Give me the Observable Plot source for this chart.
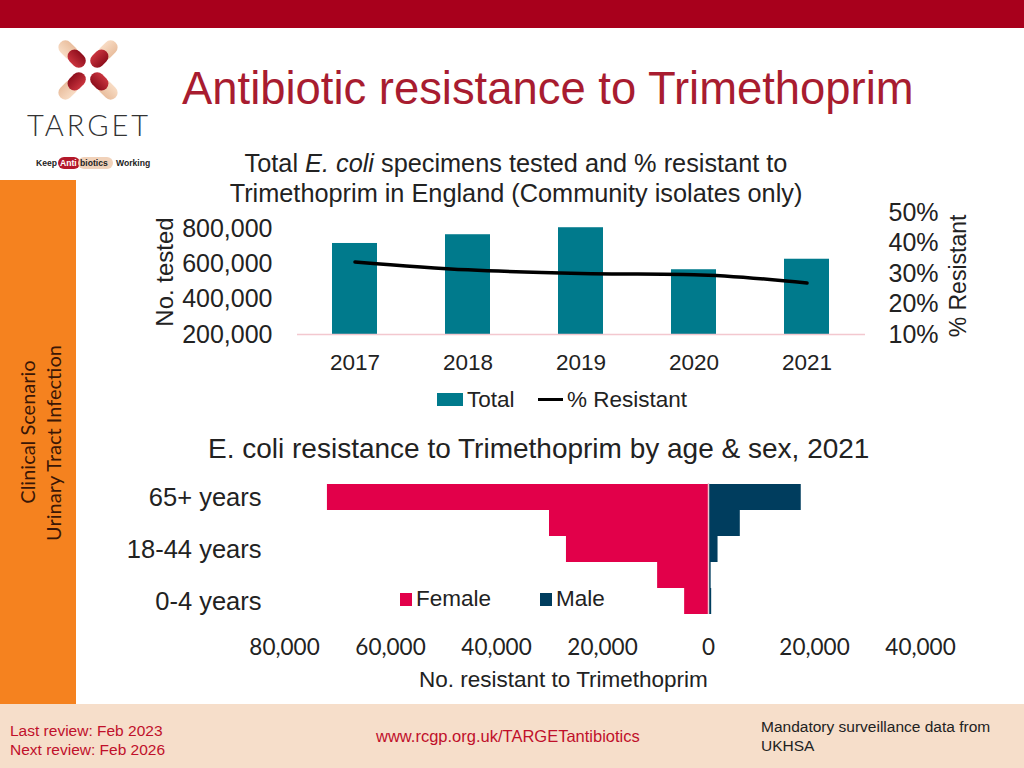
<!DOCTYPE html>
<html><head><meta charset="utf-8">
<script src="https://cdn.jsdelivr.net/npm/d3@7"></script>
<script src="https://cdn.jsdelivr.net/npm/@observablehq/plot@0.6"></script>
<style>
html,body{margin:0;padding:0;}
body{width:1024px;height:768px;position:relative;overflow:hidden;background:#fff;font-family:"Liberation Sans",Arial,sans-serif;color:#222;}
.abs{position:absolute;white-space:nowrap;}
.rot{transform:translate(-50%,-50%) rotate(-90deg);transform-origin:center center;}
#topband{left:0;top:0;width:1024px;height:28px;background:#A8001C;}
#sidebar{left:0;top:180px;width:76px;height:526px;background:#F5821F;}
#footer{left:0;top:704px;width:1024px;height:64px;background:#F6DECA;}
.side{font-family:Lato,"Open Sans",sans-serif;font-size:20px;color:#3a1606;line-height:1;}
.foot{font-size:15.5px;line-height:19px;}
svg.plot{position:absolute;overflow:visible;background:transparent;}
</style></head><body>
<div class="abs" id="topband"></div>
<div class="abs" id="sidebar"></div>
<div class="abs" id="footer"></div>

<!-- logo -->
<svg class="abs" style="left:0;top:30px" width="170" height="150" viewBox="0 0 170 150">
  <defs>
    <linearGradient id="redg" x1="0" y1="0" x2="0" y2="1">
      <stop offset="0" stop-color="#C9343E"/><stop offset="1" stop-color="#8E0E1C"/>
    </linearGradient>
    <linearGradient id="begg" x1="0" y1="0" x2="0" y2="1">
      <stop offset="0" stop-color="#F8DCC4"/><stop offset="1" stop-color="#E9BE9E"/>
    </linearGradient>
    <g id="pill">
      <rect x="17" y="-7" width="22" height="14" rx="7" fill="url(#begg)"/>
      <rect x="6" y="-7" width="20" height="14" rx="7" fill="url(#redg)"/>
    </g>
  </defs>
  <g transform="translate(88,40)">
    <use href="#pill" transform="rotate(-135)"/>
    <use href="#pill" transform="rotate(-45)"/>
    <use href="#pill" transform="rotate(45)"/>
    <use href="#pill" transform="rotate(135)"/>
  </g>
  <text x="89" y="106" text-anchor="middle" font-family="Lato" font-weight="300" font-size="29" letter-spacing="3" fill="#333">TARGET</text>
  <g font-family="Liberation Sans" font-weight="bold" font-size="8.6">
    <text x="36" y="136" fill="#222">Keep</text>
    <rect x="58" y="127" width="22" height="12" rx="6" fill="#B3182A"/>
    <rect x="78" y="127" width="35" height="12" rx="6" fill="#F1D2BA"/>
    <text x="60" y="136" fill="#fff">Anti</text>
    <text x="80" y="136" fill="#222">biotics</text>
    <text x="116" y="136" fill="#222">Working</text>
  </g>
</svg>

<div class="abs" style="left:182px;top:66px;font-size:45.4px;line-height:1;color:#A81C30;">Antibiotic resistance to Trimethoprim</div>

<div class="abs" style="left:216px;top:148px;width:600px;text-align:center;font-size:25.3px;line-height:30px;">Total <i>E. coli</i> specimens tested and % resistant to<br>Trimethoprim in England (Community isolates only)</div>

<div class="abs rot" style="left:165px;top:272px;font-size:24px;line-height:1;">No. tested</div>
<div class="abs rot" style="left:958px;top:276px;font-size:23px;line-height:1;">% Resistant</div>

<div id="topchart"></div>

<!-- top legend -->
<div class="abs" style="left:437px;top:393px;width:26px;height:13px;background:#007A8C;"></div>
<div class="abs" style="left:467px;top:389px;font-size:22.5px;line-height:1;">Total</div>
<div class="abs" style="left:538px;top:398px;width:25px;height:3px;background:#000;"></div>
<div class="abs" style="left:567px;top:389px;font-size:22.5px;line-height:1;">% Resistant</div>

<div class="abs" style="left:208px;top:435px;font-size:28px;line-height:1;">E. coli resistance to Trimethoprim by age &amp; sex, 2021</div>

<div id="bottomchart"></div>

<!-- bottom legend -->
<div class="abs" style="left:400px;top:593px;width:12px;height:13px;background:#E2004A;"></div>
<div class="abs" style="left:416px;top:588px;font-size:22.5px;line-height:1;">Female</div>
<div class="abs" style="left:540px;top:593px;width:12px;height:13px;background:#003D5E;"></div>
<div class="abs" style="left:556px;top:588px;font-size:22.5px;line-height:1;">Male</div>

<div class="abs" style="left:419px;top:669px;font-size:22.5px;line-height:1;">No. resistant to Trimethoprim</div>

<div class="abs rot side" style="left:27px;top:432px;">Clinical Scenario</div>
<div class="abs rot side" style="left:53px;top:443px;">Urinary Tract Infection</div>

<div class="abs foot" style="left:10px;top:721px;color:#C0102A;">Last review: Feb 2023<br>Next review: Feb 2026</div>
<div class="abs foot" style="left:376px;top:727px;color:#C0102A;font-size:16.5px;">www.rcgp.org.uk/TARGETantibiotics</div>
<div class="abs foot" style="left:761px;top:717px;color:#222;">Mandatory surveillance data from<br>UKHSA</div>

<script>
// ---- Top chart data ----
const years = ["2017", "2018", "2019", "2020", "2021"];
const totalTested = [720000, 770000, 810000, 570000, 630000];
const pctResistant = [33.8, 31.2, 30.0, 29.6, 26.9];
const countTicks = [200000, 400000, 600000, 800000];
const pctTicks = [10, 20, 30, 40, 50];

// ---- Bottom chart data ----
const ageGroups = ["65+ years", "45-64 years", "18-44 years", "5-17 years", "0-4 years"];
const femaleResistant = [71900, 30000, 26800, 9600, 4500];
const maleResistant = [17500, 6000, 1800, 500, 600];
const ageTickLabels = ["65+ years", "18-44 years", "0-4 years"];
const resistTicks = [-80000, -60000, -40000, -20000, 0, 20000, 40000];

const teal = "#007A8C", femaleColor = "#E2004A", maleColor = "#003D5E";

// secondary axis mapping: percent -> count space
const pctToCount = d3.scaleLinear().domain([10, 50]).range([200000, 897000]);

const topData = years.map((y, i) => ({year: y, total: totalTested[i], pct: pctResistant[i]}));

const chartTop = Plot.plot({
  width: 840, height: 185,
  marginTop: 17, marginBottom: 46, marginLeft: 157, marginRight: 115,
  style: {fontFamily: "Liberation Sans, Arial, sans-serif", color: "#222", background: "transparent", overflow: "visible"},
  x: {type: "band", domain: years, paddingInner: 0.6, paddingOuter: 0.3},
  y: {domain: [200000, 897000]},
  marks: [
    Plot.barY(topData, {x: "year", y1: 200000, y2: "total", fill: teal}),
    Plot.ruleY([200000], {stroke: "#F3C8CF", strokeWidth: 1.5}),
    Plot.line(topData, {x: "year", y: d => pctToCount(d.pct), stroke: "#000", strokeWidth: 3.5, curve: "monotone-x"}),
    Plot.axisY({ticks: countTicks, tickFormat: d3.format(","), tickSize: 0, tickPadding: 25, fontSize: 25, label: null}),
    Plot.axisY({anchor: "right", ticks: pctTicks.map(p => pctToCount(p)), tickFormat: v => Math.round(pctToCount.invert(v)) + "%", tickSize: 0, tickPadding: 23, fontSize: 25, label: null}),
    Plot.axisX({tickSize: 0, tickPadding: 20, fontSize: 22.5, label: null})
  ]
});
chartTop.classList.add("plot");
chartTop.style.left = "140px"; chartTop.style.top = "195px";
document.getElementById("topchart").appendChild(chartTop);

const sexData = [];
ageGroups.forEach((a, i) => {
  sexData.push({age: a, sex: "Female", value: -femaleResistant[i]});
  sexData.push({age: a, sex: "Male", value: maleResistant[i]});
});

const chartBottom = Plot.plot({
  width: 900, height: 200,
  marginTop: 13, marginBottom: 56, marginLeft: 184, marginRight: 80,
  style: {fontFamily: "Liberation Sans, Arial, sans-serif", color: "#222", background: "transparent", overflow: "visible"},
  x: {domain: [-80000, 40000]},
  y: {type: "band", domain: ageGroups, padding: 0},
  color: {domain: ["Female", "Male"], range: [femaleColor, maleColor]},
  marks: [
    Plot.barX(sexData, {y: "age", x: "value", fill: "sex"}),
    Plot.ruleX([0], {stroke: "#F0C6D0", strokeWidth: 1.5}),
    Plot.axisY({ticks: ageTickLabels, tickSize: 0, tickPadding: 23, fontSize: 25.5, label: null}),
    Plot.axisX({ticks: resistTicks, tickFormat: d => d3.format(",")(Math.abs(d)), tickSize: 0, tickPadding: 25, fontSize: 22.5, fontFamily: "Lato, Open Sans, sans-serif", label: null})
  ]
});
chartBottom.classList.add("plot");
chartBottom.style.left = "100px"; chartBottom.style.top = "470px";
document.getElementById("bottomchart").appendChild(chartBottom);
</script>
</body></html>
